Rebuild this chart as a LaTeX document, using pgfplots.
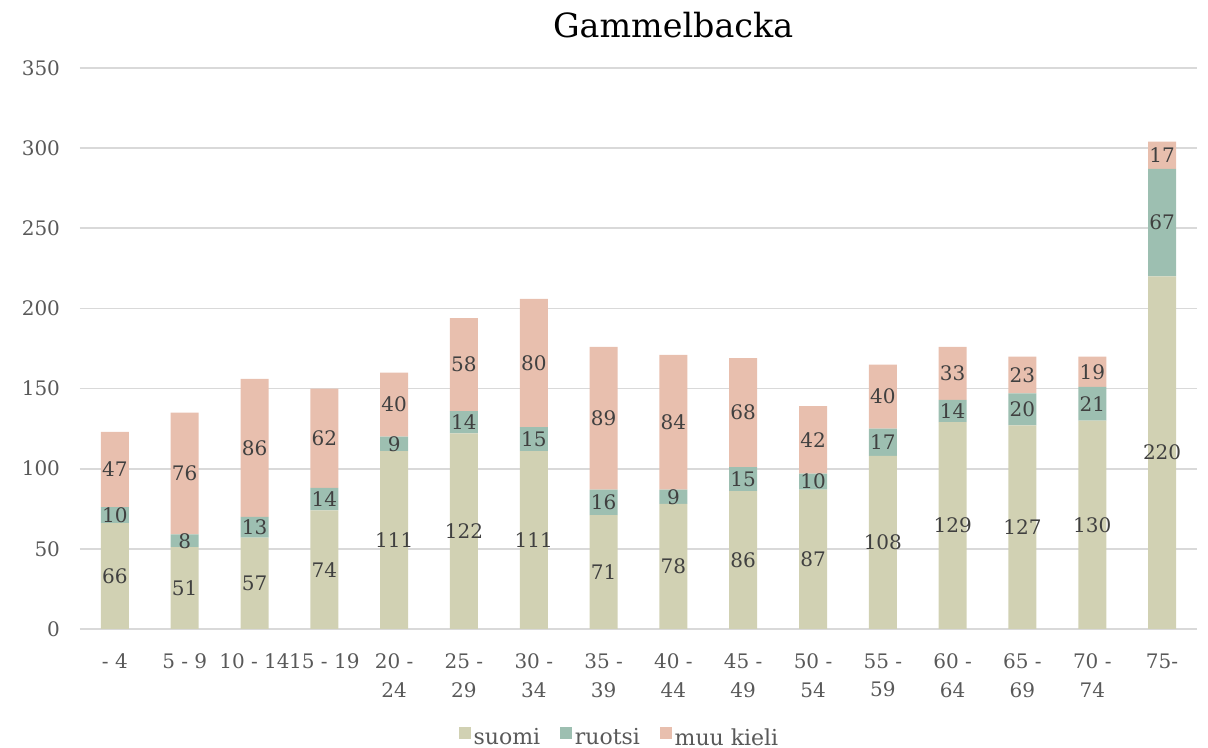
\documentclass[border=0pt]{standalone}
\usepackage{fontspec}
\setmainfont{DejaVu Serif}
\usepackage{pgfplots}
\pgfplotsset{compat=1.18}
\definecolor{suomi}{HTML}{D1D1B3}
\definecolor{ruotsi}{HTML}{9DBFB1}
\definecolor{muu}{HTML}{E8BFAE}
\definecolor{gridgray}{HTML}{D9D9D9}
\definecolor{ticktext}{HTML}{595959}
\definecolor{labeltext}{HTML}{404040}
\begin{document}
\begin{tikzpicture}
\useasboundingbox (0,0) rectangle (906pt,561pt);
\begin{axis}[
  at={(60pt,89.25pt)}, anchor=south west,
  scale only axis, width=837.75pt, height=420.75pt,
  ybar stacked, bar width=21pt,
  xmin=-0.5, xmax=15.5, ymin=0, ymax=350,
  /pgf/number format/assume math mode=true,
  xtick={0,...,15},
  xticklabels={{- 4},{5 - 9},{10 - 14},{15 - 19},{20 -\\24},{25 -\\29},{30 -\\34},{35 -\\39},{40 -\\44},{45 -\\49},{50 -\\54},{55 -\\59},{60 -\\64},{65 -\\69},{70 -\\74},{75-}},
  ytick={0,50,...,350},
  ymajorgrids, grid style={line width=1.2pt, color=gridgray},
  axis line style={draw=none}, major tick length=0,
  xticklabel style={align=center, font=\fontsize{15}{21.5}\selectfont, text=ticktext, anchor=north, yshift=-15pt},
  yticklabel style={font=\fontsize{15}{18}\selectfont, text=ticktext, xshift=-11.5pt},
  title={Gammelbacka},
  title style={at={(axis description cs:0.531,1.063)}, anchor=center, font=\fontsize{25}{30}\selectfont},
  nodes near coords,
  every node near coord/.append style={anchor=center, font=\fontsize{15}{18}\selectfont, text=labeltext},
  legend style={at={(axis description cs:0.4834,-0.194)}, anchor=center, legend columns=-1, draw=none, font=\fontsize{16.5}{19}\selectfont, text=ticktext, /tikz/every even column/.append style={column sep=13pt}},
  legend image code/.code={\fill[#1] (0pt,-1pt) rectangle (9pt,8pt);},
]
\addplot[fill=suomi, draw=none] coordinates {(0,66) (1,51) (2,57) (3,74) (4,111) (5,122) (6,111) (7,71) (8,78) (9,86) (10,87) (11,108) (12,129) (13,127) (14,130) (15,220)};
\addplot[fill=ruotsi, draw=none] coordinates {(0,10) (1,8) (2,13) (3,14) (4,9) (5,14) (6,15) (7,16) (8,9) (9,15) (10,10) (11,17) (12,14) (13,20) (14,21) (15,67)};
\addplot[fill=muu, draw=none] coordinates {(0,47) (1,76) (2,86) (3,62) (4,40) (5,58) (6,80) (7,89) (8,84) (9,68) (10,42) (11,40) (12,33) (13,23) (14,19) (15,17)};
\legend{suomi, ruotsi, muu kieli}
\end{axis}
\end{tikzpicture}
\end{document}
